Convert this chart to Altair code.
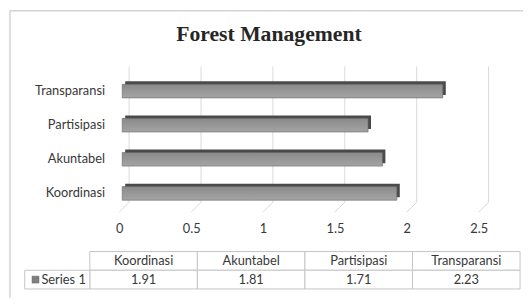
import altair as alt
import pandas as pd

# ---- data ----
categories = ["Koordinasi", "Akuntabel", "Partisipasi", "Transparansi"]
values = [1.91, 1.81, 1.71, 2.23]
value_labels = ["1.91", "1.81", "1.71", "2.23"]
x_ticks = [0, 0.5, 1, 1.5, 2, 2.5]
series_name = "Series 1"
title_text = "Forest Management"

# ---- style / layout ----
FONT = "Lato"
TXT = "#383838"
GRID = "#d9d9d9"
BORDER = "#d4d4d4"
W, H = 365, 142
DEPTH = 10
SHIFT = 3
TOPF = 3
LABEL_W = 0.605

bars_df = pd.DataFrame({"cat": categories, "value": values})
grid_df = pd.DataFrame({"value": x_ticks})
y_order = categories[::-1]

x_scale = alt.Scale(domain=[0, 2.5], nice=False, zero=True)
x_axis = alt.Axis(values=x_ticks, title=None, domain=False, ticks=False, grid=False,
                  labelPadding=11, labelFont=FONT, labelFontSize=13, labelColor=TXT,
                  labelFlush=False, labelOverlap=False, format="~g")
y_scale = alt.Scale(domain=y_order, paddingInner=0.6, paddingOuter=0.35)
y_axis = alt.Axis(title=None, domain=False, ticks=False, labelPadding=15,
                  labelFont=FONT, labelFontSize=13, labelColor=TXT)

grid_back = alt.Chart(grid_df).mark_rule(color=GRID, strokeWidth=1, xOffset=DEPTH).encode(
    x=alt.X("value:Q", scale=x_scale, axis=x_axis),
    y=alt.value(-6), y2=alt.value(H - DEPTH))
grid_diag = alt.Chart(grid_df).mark_rule(color=GRID, strokeWidth=1, xOffset=0, x2Offset=DEPTH).encode(
    x=alt.X("value:Q", scale=x_scale, axis=x_axis), x2=alt.X2("value"),
    y=alt.value(H), y2=alt.value(H - DEPTH))

bar_back = alt.Chart(bars_df).mark_bar(
    color="#4a4a4a", xOffset=SHIFT + TOPF, x2Offset=SHIFT + TOPF, yOffset=-TOPF, y2Offset=-TOPF
).encode(
    x=alt.X("value:Q", scale=x_scale, axis=x_axis),
    y=alt.Y("cat:N", scale=y_scale, axis=y_axis, sort=y_order))

bar_front = alt.Chart(bars_df).mark_bar(
    color=alt.Gradient(gradient="linear", x1=0, x2=0, y1=0, y2=1,
                       stops=[alt.GradientStop(color="#8a8a8a", offset=0),
                              alt.GradientStop(color="#a4a4a4", offset=1)]),
    stroke="#666666", strokeWidth=0.6, xOffset=SHIFT, x2Offset=SHIFT
).encode(
    x=alt.X("value:Q", scale=x_scale, axis=x_axis),
    y=alt.Y("cat:N", scale=y_scale, axis=y_axis, sort=y_order))

bar_group = alt.layer(grid_back, grid_diag, bar_back, bar_front)

# ---- data table ----
n = len(categories)
cells = []
for i, (c, v) in enumerate(zip(categories, value_labels)):
    cells.append({"x0": i, "x1": i + 1, "r0": 0, "r1": 1, "txt": c})
    cells.append({"x0": i, "x1": i + 1, "r0": 1, "r1": 2, "txt": v})
cells_df = pd.DataFrame(cells)
label_df = pd.DataFrame([{"x0": -LABEL_W, "x1": 0, "r0": 1, "r1": 2, "txt": series_name}])

tx = alt.Scale(domain=[-LABEL_W, n], range=[-96, 407], nice=False, zero=False)
ty = alt.Scale(domain=[0, 2], range=[182, 220], nice=False, zero=False)

cell_rect = alt.Chart(pd.concat([cells_df, label_df])).mark_rect(
    fill="white", stroke="#c4c4c4", strokeWidth=1).encode(
    x=alt.X("x0:Q", scale=tx, axis=None), x2="x1:Q",
    y=alt.Y("r0:Q", scale=ty, axis=None), y2="r1:Q")

cell_text = alt.Chart(cells_df).transform_calculate(
    xm="(datum.x0 + datum.x1) / 2", ym="(datum.r0 + datum.r1) / 2"
).mark_text(font=FONT, fontSize=13, color=TXT, align="center", baseline="middle").encode(
    x=alt.X("xm:Q", scale=tx, axis=None),
    y=alt.Y("ym:Q", scale=ty, axis=None),
    text="txt:N")

key_mark = alt.Chart(label_df).transform_calculate(
    xk="datum.x0 + 0.1", ym="(datum.r0 + datum.r1) / 2"
).mark_square(size=50, color="#7f7f7f", opacity=1, stroke="#6a6a6a", strokeWidth=0.5).encode(
    x=alt.X("xk:Q", scale=tx, axis=None),
    y=alt.Y("ym:Q", scale=ty, axis=None))

label_text = alt.Chart(label_df).transform_calculate(
    xl="datum.x0 + 0.155", ym="(datum.r0 + datum.r1) / 2"
).mark_text(font=FONT, fontSize=13, color=TXT, align="left", baseline="middle").encode(
    x=alt.X("xl:Q", scale=tx, axis=None),
    y=alt.Y("ym:Q", scale=ty, axis=None),
    text="txt:N")

table_group = alt.layer(cell_rect, cell_text, key_mark, label_text)

# ---- decorations: title and chart-area border ----
title_mark = alt.Chart(pd.DataFrame({"t": [title_text]})).mark_text(
    font="Liberation Serif", fontSize=22, fontWeight="bold", color="#262626",
    align="center", baseline="middle").encode(
    x=alt.value(152), y=alt.value(-39), text="t:N")

border_left = alt.Chart(pd.DataFrame({"k": [0]})).mark_rule(color=BORDER, strokeWidth=1.5).encode(
    x=alt.value(-111), y=alt.value(-63), y2=alt.value(229))
border_top = alt.Chart(pd.DataFrame({"k": [0]})).mark_rule(color=BORDER, strokeWidth=1.5).encode(
    x=alt.value(-111), x2=alt.value(415), y=alt.value(-62.5))

chart = alt.layer(border_left, border_top, title_mark, bar_group, table_group).resolve_scale(
    x="independent", y="independent"
).properties(
    width=W, height=H,
    autosize=alt.AutoSizeParams(type="none"),
    padding={"left": 113, "top": 63, "right": 45, "bottom": 95},
).configure_view(stroke=None)

chart.save("out.html", embed_options={"renderer": "svg", "actions": False})
